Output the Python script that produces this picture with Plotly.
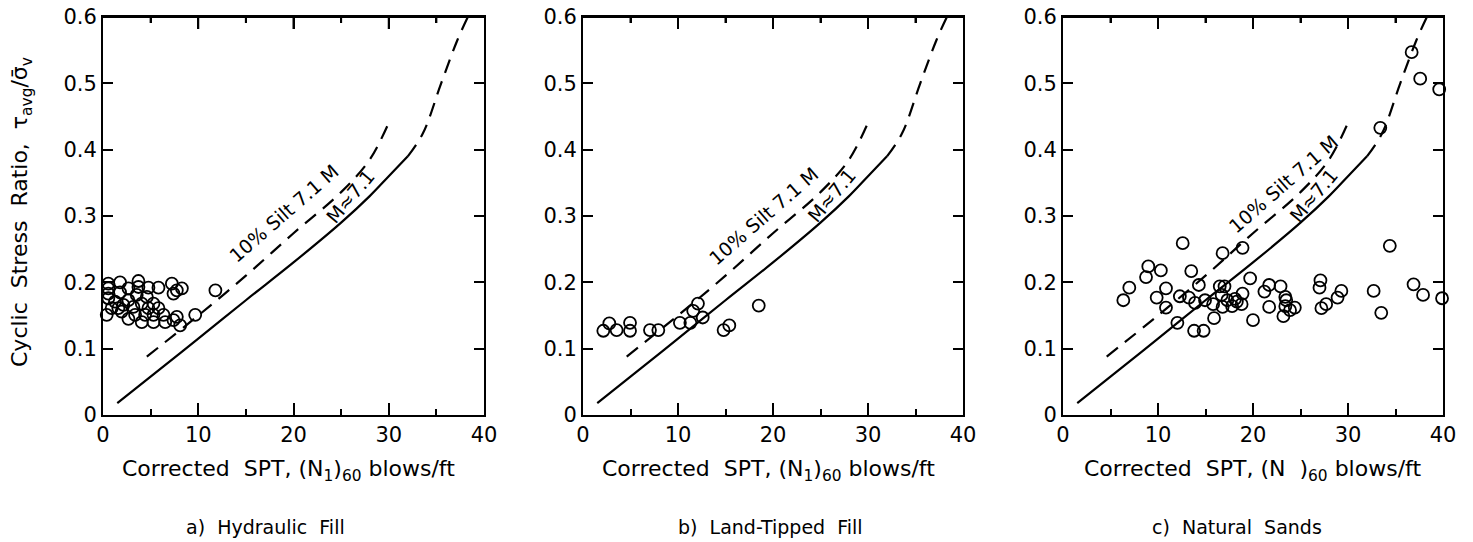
import plotly.graph_objects as go

# ---------------- data ----------------
# M = 7.1 clean-sand curve (solid part) and its dashed extension
m71_x = [1.5, 5, 10, 15, 20, 25, 28, 30, 32]
m71_y = [0.018, 0.058, 0.115, 0.173, 0.230, 0.290, 0.330, 0.360, 0.390]
m71_ext_x = [32, 33.6, 35.5, 37.2, 38.3]
m71_ext_y = [0.390, 0.425, 0.500, 0.565, 0.600]

# 10 % silt, M = 7.1 curve (dashed)
silt_x = [4.6, 10, 15, 20, 25, 28, 30.2]
silt_y = [0.088, 0.150, 0.210, 0.274, 0.336, 0.385, 0.447]

# a) Hydraulic fill
a_x = [0.56, 0.56, 0.56, 1.79, 1.79, 2.67, 3.72, 3.72, 3.54, 4.77, 5.82, 4.60,
       7.23, 7.75, 7.40, 8.28, 0.56, 1.26, 2.14, 2.67, 3.19, 4.07, 4.77, 5.30,
       5.82, 0.39, 0.91, 1.61, 1.96, 2.67, 3.37, 4.07, 4.42, 5.30, 5.30, 6.35,
       6.53, 7.40, 7.75, 8.10, 9.68, 11.8]
a_y = [0.198, 0.191, 0.183, 0.200, 0.185, 0.191, 0.202, 0.193, 0.181, 0.192, 0.192, 0.178,
       0.198, 0.188, 0.183, 0.191, 0.176, 0.171, 0.166, 0.173, 0.163, 0.168, 0.161, 0.168,
       0.161, 0.151, 0.161, 0.161, 0.156, 0.145, 0.151, 0.140, 0.151, 0.151, 0.140, 0.151,
       0.140, 0.143, 0.148, 0.135, 0.151, 0.188]

# b) Land-tipped fill
b_x = [2.14, 2.77, 3.54, 4.95, 4.95, 7.05, 7.93, 10.2, 11.3, 11.6, 12.1, 12.6, 14.8, 15.4, 18.5]
b_y = [0.127, 0.138, 0.128, 0.139, 0.127, 0.128, 0.128, 0.139, 0.139, 0.157, 0.168, 0.147, 0.128, 0.135, 0.165]

# c) Natural sands
c_x = [6.35, 6.98, 8.74, 8.98, 10.3, 9.86, 10.84, 10.84, 12.3, 12.6, 12.04, 13.26,
       13.5, 13.9, 13.8, 14.8, 14.3, 14.95, 15.8, 15.9, 16.8, 16.5, 16.7, 16.8,
       17.0, 17.3, 17.8, 18.1, 18.3, 18.8, 18.9, 18.9, 19.7, 20.0, 21.2, 21.7,
       21.7, 22.9, 23.4, 23.5, 23.4, 23.2, 23.9, 24.4, 27.1, 27.0, 27.2, 27.7,
       28.9, 29.3, 32.7, 33.5, 34.4, 36.9, 37.9, 39.9, 36.7, 37.6, 39.6, 33.4]
c_y = [0.173, 0.192, 0.208, 0.224, 0.218, 0.177, 0.191, 0.162, 0.179, 0.259, 0.139, 0.177,
       0.217, 0.169, 0.127, 0.127, 0.196, 0.173, 0.167, 0.146, 0.244, 0.194, 0.181, 0.163,
       0.194, 0.173, 0.164, 0.175, 0.171, 0.167, 0.183, 0.252, 0.206, 0.143, 0.186, 0.196,
       0.163, 0.194, 0.178, 0.173, 0.164, 0.149, 0.158, 0.162, 0.203, 0.192, 0.161, 0.167,
       0.177, 0.187, 0.187, 0.154, 0.255, 0.197, 0.181, 0.176, 0.547, 0.507, 0.491, 0.433]

x_ticks = [0, 10, 20, 30, 40]
x_minor_ticks = [5, 15, 25, 35]
y_ticks = [0, 0.1, 0.2, 0.3, 0.4, 0.5, 0.6]
y_tick_text = ["0", "0.1", "0.2", "0.3", "0.4", "0.5", "0.6"]

captions = ["a)  Hydraulic  Fill", "b)  Land-Tipped  Fill", "c)  Natural  Sands"]
x_titles = ["Corrected  SPT, (N<sub>1</sub>)<sub>60</sub> blows/ft",
            "Corrected  SPT, (N<sub>1</sub>)<sub>60</sub> blows/ft",
            "Corrected  SPT, (N  )<sub>60</sub> blows/ft"]
y_title = "Cyclic  Stress  Ratio,  τ<sub>avg</sub>/σ̄<sub>v</sub>"
silt_label = "10% Silt 7.1 M"
m_label = "M≈7.1"

# ---------------- figure ----------------
# the page body has an 8 px margin, so the figure starts at (8, 8) of the window
OFF = 8
W, H = 1473 - 2 * OFF, 542 - OFF
FONT = "DejaVu Sans"
domains = [(103, 484), (583, 963), (1063, 1443)]   # window pixels
y_top, y_bot = 17, 415                               # window pixels
panel_h = y_bot - y_top
MAJOR_LEN, MINOR_LEN = 12, 6

def fx(px):
    return (px - OFF) / W

def fy(py):
    return 1 - (py - OFF) / H

fig = go.Figure()
panels = [(a_x, a_y), (b_x, b_y), (c_x, c_y)]
silt_pos = [(19.0, 0.305), (19.0, 0.300), (23.2, 0.348)]
m_pos = [(26.0, 0.330), (26.2, 0.332), (26.4, 0.332)]
caption_cx = [265, 770, 1237]
title_cx = [288, 768, 1252]

for i, (px, py) in enumerate(panels):
    xa = "x" if i == 0 else f"x{i+1}"
    ya = "y" if i == 0 else f"y{i+1}"
    fig.add_trace(go.Scatter(x=m71_x, y=m71_y, mode="lines", xaxis=xa, yaxis=ya,
                             line=dict(color="black", width=2.2, shape="spline"),
                             showlegend=False))
    fig.add_trace(go.Scatter(x=m71_ext_x, y=m71_ext_y, mode="lines", xaxis=xa, yaxis=ya,
                             line=dict(color="black", width=2.2, dash="14px,9px", shape="spline"),
                             showlegend=False))
    fig.add_trace(go.Scatter(x=silt_x, y=silt_y, mode="lines", xaxis=xa, yaxis=ya,
                             line=dict(color="black", width=2.2, dash="14px,9px", shape="spline"),
                             showlegend=False))
    fig.add_trace(go.Scatter(x=px, y=py, mode="markers", xaxis=xa, yaxis=ya, cliponaxis=False,
                             marker=dict(symbol="circle-open", size=12, color="black",
                                         line=dict(width=1.8, color="black")),
                             showlegend=False))

    x0, x1 = domains[i]
    axis_common = dict(showline=True, linecolor="black", linewidth=2, mirror="ticks",
                       ticks="inside", tickcolor="black", tickwidth=2, showgrid=False,
                       zeroline=False, automargin=False, ticklabeloverflow="allow",
                       tickfont=dict(family=FONT, size=21, color="black"))
    fig.layout[("xaxis" if i == 0 else f"xaxis{i+1}")] = dict(
        domain=[fx(x0), fx(x1)], anchor=ya, range=[0, 40], tickvals=x_ticks,
        ticklen=MAJOR_LEN, minor=dict(tickvals=x_minor_ticks, ticklen=MINOR_LEN, tickwidth=2,
                                      tickcolor="black", ticks="inside"),
        **axis_common)
    fig.layout[("yaxis" if i == 0 else f"yaxis{i+1}")] = dict(
        domain=[fy(y_bot), fy(y_top)], anchor=xa, range=[0, 0.6],
        tickvals=y_ticks, ticktext=y_tick_text, ticklen=10, **axis_common)

    fig.add_annotation(text=x_titles[i], x=fx(title_cx[i]), y=fy(470),
                       xref="paper", yref="paper", xanchor="center", yanchor="middle",
                       showarrow=False, font=dict(family=FONT, size=22, color="black"))
    fig.add_annotation(text=captions[i], x=fx(caption_cx[i]), y=fy(527),
                       xref="paper", yref="paper", xanchor="center", yanchor="middle",
                       showarrow=False, font=dict(family=FONT, size=19, color="black"))
    fig.add_annotation(text=silt_label, x=silt_pos[i][0], y=silt_pos[i][1], xref=xa, yref=ya,
                       xanchor="center", yanchor="middle", showarrow=False, textangle=-41,
                       font=dict(family=FONT, size=19, color="black"))
    fig.add_annotation(text=m_label, x=m_pos[i][0], y=m_pos[i][1], xref=xa, yref=ya,
                       xanchor="center", yanchor="middle", showarrow=False, textangle=-50,
                       font=dict(family=FONT, size=19, color="black"))
    # top border of the panel frame, with its inward ticks
    fig.add_shape(type="line", xref=f"{xa} domain", yref=f"{ya} domain",
                  x0=0, x1=1, y0=1, y1=1, line=dict(color="black", width=2))
    for t in x_ticks[1:-1]:
        fig.add_shape(type="line", xref=xa, yref=f"{ya} domain", x0=t, x1=t,
                      y0=1, y1=1 - MAJOR_LEN / panel_h, line=dict(color="black", width=2))
    for t in x_minor_ticks:
        fig.add_shape(type="line", xref=xa, yref=f"{ya} domain", x0=t, x1=t,
                      y0=1, y1=1 - MINOR_LEN / panel_h, line=dict(color="black", width=2))

fig.add_annotation(text=y_title, x=fx(21), y=fy(212), xref="paper", yref="paper",
                   xanchor="center", yanchor="middle", showarrow=False,
                   textangle=-90, font=dict(family=FONT, size=22, color="black"))

fig.update_layout(width=W, height=H, margin=dict(l=0, r=0, t=0, b=0),
                  paper_bgcolor="white", plot_bgcolor="white")

fig.write_html("out.html")
